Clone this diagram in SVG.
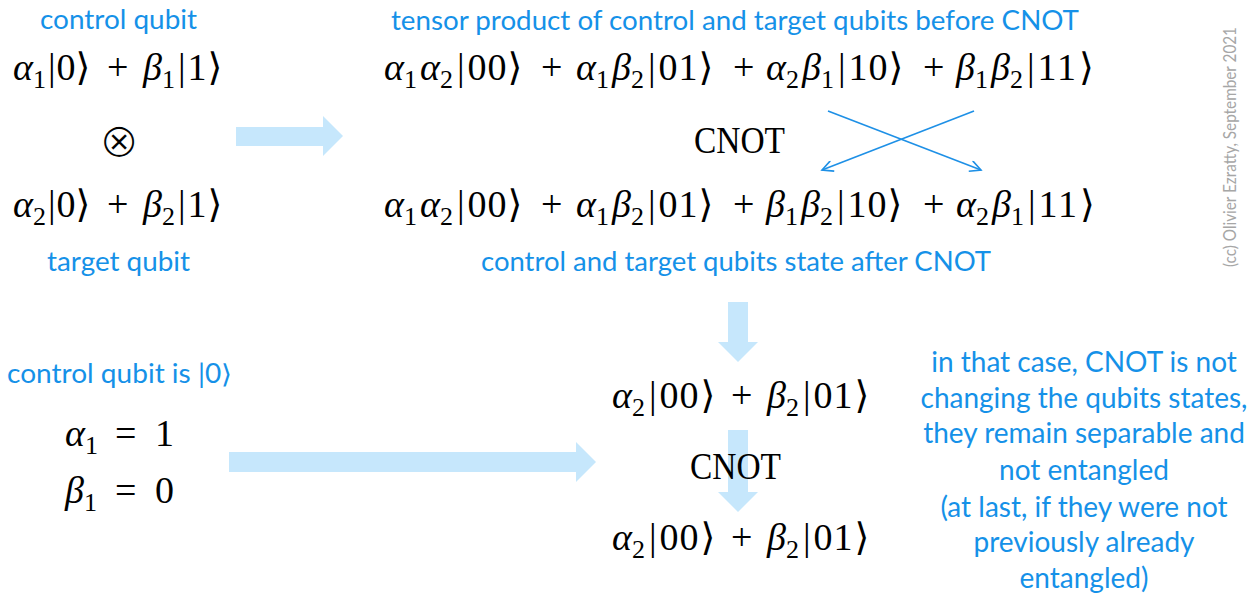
<svg xmlns="http://www.w3.org/2000/svg" width="1255" height="595" viewBox="0 0 1255 595">
<style>
  .m { font-family: "Liberation Serif", "DejaVu Serif", serif; font-size: 38px; fill: #000; }
  .v { font-style: italic; }
  .s { font-size: 26px; font-style: normal; }
  .lbl { font-family: Lato, "Liberation Sans", sans-serif; font-size: 26px; fill: #1591e8; }
  .note { font-family: Lato, "Liberation Sans", sans-serif; font-size: 28px; fill: #1591e8; text-anchor: middle; }
  .big { fill: #c6e7fc; stroke: none; }
  .thin { stroke: #1e90e6; stroke-width: 1.6; fill: none; marker-end: url(#open); }
</style>
<defs>
  <marker id="open" markerWidth="14" markerHeight="12" refX="12" refY="6" orient="auto" markerUnits="userSpaceOnUse">
    <path d="M1,0.5 L12,6 L1,11.5" fill="none" stroke="#1e90e6" stroke-width="1.6"/>
  </marker>
</defs>
<rect width="1255" height="595" fill="#fff"/>

<g id="connectors">
  <path class="big" d="M236,127 L323,127 L323,116 L343,136 L323,156 L323,146 L236,146 Z"/>
  <path class="big" d="M229,452 L576,452 L576,442 L596,462 L576,482 L576,472 L229,472 Z"/>
  <path class="big" d="M728,302 L748,302 L748,342 L758,342 L738,362 L718,342 L728,342 Z"/>
  <path class="big" d="M728,430 L748,430 L748,492 L758,492 L738,512 L718,492 L728,492 Z"/>
  <line class="thin" x1="828" y1="111" x2="981" y2="170"/>
  <line class="thin" x1="974" y1="111" x2="822" y2="170"/>
</g>

<g id="control-qubit">
  <text class="lbl" x="40" y="29" textLength="157" lengthAdjust="spacingAndGlyphs">control qubit</text>
  <text class="m" x="13" y="80"><tspan class="v">α</tspan><tspan class="s" dy="8">1</tspan><tspan dy="-8" dx="2">|</tspan><tspan dx="1">0</tspan><tspan>⟩</tspan></text>
  <text class="m" x="107" y="80">+</text>
  <text class="m" x="143" y="80"><tspan class="v">β</tspan><tspan class="s" dy="8">1</tspan><tspan dy="-8" dx="3">|</tspan><tspan dx="2">1</tspan><tspan dx="1">⟩</tspan></text>
</g>

<g id="tensor-symbol">
  <text x="119" y="157" font-family="DejaVu Sans, sans-serif" font-size="48" text-anchor="middle" stroke="#fff" stroke-width="1.4">⊗</text>
</g>

<g id="target-qubit">
  <text class="m" x="13" y="217"><tspan class="v">α</tspan><tspan class="s" dy="8">2</tspan><tspan dy="-8" dx="2">|</tspan><tspan dx="1">0</tspan><tspan>⟩</tspan></text>
  <text class="m" x="107" y="217">+</text>
  <text class="m" x="143" y="217"><tspan class="v">β</tspan><tspan class="s" dy="8">2</tspan><tspan dy="-8" dx="3">|</tspan><tspan dx="2">1</tspan><tspan dx="1">⟩</tspan></text>
  <text class="lbl" x="47" y="271" textLength="143" lengthAdjust="spacingAndGlyphs">target qubit</text>
</g>

<g id="before-cnot">
  <text class="lbl" x="391" y="30" textLength="688" lengthAdjust="spacingAndGlyphs">tensor product of control and target qubits before CNOT</text>
  <text class="m" x="384" y="80"><tspan class="v">α</tspan><tspan class="s" dy="8">1</tspan><tspan class="v" dy="-8" dx="3">α</tspan><tspan class="s" dy="8">2</tspan><tspan dy="-8" dx="4">|</tspan><tspan dx="3">0</tspan><tspan dx="1">0</tspan><tspan dx="1">⟩</tspan></text>
  <text class="m" x="541" y="80">+</text>
  <text class="m" x="576" y="80"><tspan class="v">α</tspan><tspan class="s" dy="8">1</tspan><tspan class="v" dy="-8" dx="3">β</tspan><tspan class="s" dy="8">2</tspan><tspan dy="-8" dx="4">|</tspan><tspan dx="3">0</tspan><tspan dx="1">1</tspan><tspan dx="1">⟩</tspan></text>
  <text class="m" x="733" y="80">+</text>
  <text class="m" x="766" y="80"><tspan class="v">α</tspan><tspan class="s" dy="8">2</tspan><tspan class="v" dy="-8" dx="3">β</tspan><tspan class="s" dy="8">1</tspan><tspan dy="-8" dx="4">|</tspan><tspan dx="3">1</tspan><tspan dx="1">0</tspan><tspan dx="1">⟩</tspan></text>
  <text class="m" x="923" y="80">+</text>
  <text class="m" x="956" y="80"><tspan class="v">β</tspan><tspan class="s" dy="8">1</tspan><tspan class="v" dy="-8" dx="3">β</tspan><tspan class="s" dy="8">2</tspan><tspan dy="-8" dx="4">|</tspan><tspan dx="3">1</tspan><tspan dx="2">1</tspan><tspan dx="3">⟩</tspan></text>
</g>

<g id="cnot-1">
  <text class="m" x="694" y="153" font-size="36" textLength="91" lengthAdjust="spacingAndGlyphs">CNOT</text>
</g>

<g id="after-cnot">
  <text class="m" x="384" y="217"><tspan class="v">α</tspan><tspan class="s" dy="8">1</tspan><tspan class="v" dy="-8" dx="3">α</tspan><tspan class="s" dy="8">2</tspan><tspan dy="-8" dx="4">|</tspan><tspan dx="3">0</tspan><tspan dx="1">0</tspan><tspan dx="1">⟩</tspan></text>
  <text class="m" x="541" y="217">+</text>
  <text class="m" x="576" y="217"><tspan class="v">α</tspan><tspan class="s" dy="8">1</tspan><tspan class="v" dy="-8" dx="3">β</tspan><tspan class="s" dy="8">2</tspan><tspan dy="-8" dx="4">|</tspan><tspan dx="3">0</tspan><tspan dx="1">1</tspan><tspan dx="1">⟩</tspan></text>
  <text class="m" x="733" y="217">+</text>
  <text class="m" x="766" y="217"><tspan class="v">β</tspan><tspan class="s" dy="8">1</tspan><tspan class="v" dy="-8" dx="3">β</tspan><tspan class="s" dy="8">2</tspan><tspan dy="-8" dx="4">|</tspan><tspan dx="3">1</tspan><tspan dx="1">0</tspan><tspan dx="1">⟩</tspan></text>
  <text class="m" x="923" y="217">+</text>
  <text class="m" x="956" y="217"><tspan class="v">α</tspan><tspan class="s" dy="8">2</tspan><tspan class="v" dy="-8" dx="3">β</tspan><tspan class="s" dy="8">1</tspan><tspan dy="-8" dx="4">|</tspan><tspan dx="3">1</tspan><tspan dx="2">1</tspan><tspan dx="3">⟩</tspan></text>
  <text class="lbl" x="481" y="271" textLength="510" lengthAdjust="spacingAndGlyphs">control and target qubits state after CNOT</text>
</g>

<g id="copyright">
  <text x="1236" y="267" transform="rotate(-90 1236 267)" font-family="Lato, 'Liberation Sans', sans-serif" font-size="17" fill="#a6a6a6" textLength="240" lengthAdjust="spacingAndGlyphs">(cc) Olivier Ezratty, September 2021</text>
</g>

<g id="control-zero">
  <text class="lbl" x="7" y="383" textLength="225" lengthAdjust="spacingAndGlyphs">control qubit is |0⟩</text>
  <text class="m" x="65" y="446"><tspan class="v">α</tspan><tspan class="s" dy="8">1</tspan></text>
  <text class="m" x="115" y="446">=</text>
  <text class="m" x="155" y="446">1</text>
  <text class="m" x="65" y="503"><tspan class="v">β</tspan><tspan class="s" dy="8">1</tspan></text>
  <text class="m" x="115" y="503">=</text>
  <text class="m" x="155" y="503">0</text>
</g>

<g id="state-before">
  <text class="m" x="612" y="408"><tspan class="v">α</tspan><tspan class="s" dy="8">2</tspan><tspan dy="-8" dx="4">|</tspan><tspan dx="3">0</tspan><tspan dx="1">0</tspan><tspan dx="2">⟩</tspan></text>
  <text class="m" x="731" y="408">+</text>
  <text class="m" x="767" y="408"><tspan class="v">β</tspan><tspan class="s" dy="8">2</tspan><tspan dy="-8" dx="4">|</tspan><tspan dx="3">0</tspan><tspan dx="1">1</tspan><tspan dx="2">⟩</tspan></text>
</g>

<g id="cnot-2">
  <text class="m" x="690" y="479" font-size="36" textLength="91" lengthAdjust="spacingAndGlyphs">CNOT</text>
</g>

<g id="state-after">
  <text class="m" x="612" y="550"><tspan class="v">α</tspan><tspan class="s" dy="8">2</tspan><tspan dy="-8" dx="4">|</tspan><tspan dx="3">0</tspan><tspan dx="1">0</tspan><tspan dx="2">⟩</tspan></text>
  <text class="m" x="731" y="550">+</text>
  <text class="m" x="767" y="550"><tspan class="v">β</tspan><tspan class="s" dy="8">2</tspan><tspan dy="-8" dx="4">|</tspan><tspan dx="3">0</tspan><tspan dx="1">1</tspan><tspan dx="2">⟩</tspan></text>
</g>

<g id="explanation">
  <text class="note" x="1084" y="372">in that case, CNOT is not</text>
  <text class="note" x="1084" y="408">changing the qubits states,</text>
  <text class="note" x="1084" y="443">they remain separable and</text>
  <text class="note" x="1084" y="480">not entangled</text>
  <text class="note" x="1084" y="517">(at last, if they were not</text>
  <text class="note" x="1084" y="552">previously already</text>
  <text class="note" x="1084" y="588">entangled)</text>
</g>
</svg>
